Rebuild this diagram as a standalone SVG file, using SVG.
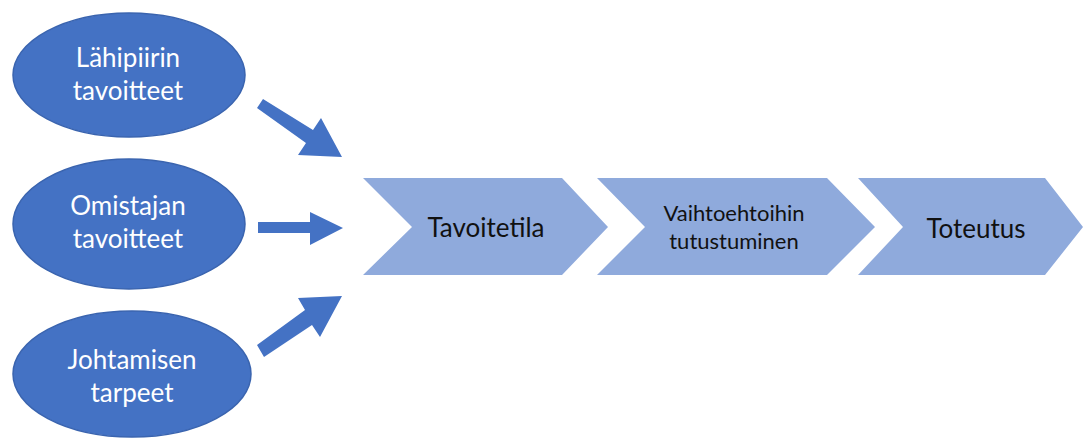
<svg xmlns="http://www.w3.org/2000/svg" width="1083" height="438" viewBox="0 0 1083 438">
<style>
.ell{fill:#4472C4;stroke:#3A64AF;stroke-width:1.5}
.chev{fill:#8FAADC}
.arr{fill:#4472C4}
.wt{fill:#fff;font-family:Lato,"Open Sans",sans-serif;font-size:26px;text-anchor:middle}
.bt{fill:#111;font-family:Lato,"Open Sans",sans-serif;font-size:26px;text-anchor:middle}
.st{fill:#111;font-family:Lato,"Open Sans",sans-serif;font-size:22px;text-anchor:middle}
</style>
<rect width="1083" height="438" fill="#fff"/>
<g id="n1"><ellipse class="ell" cx="129" cy="75" rx="116" ry="62"/><text class="wt" x="128" y="67">Lähipiirin</text><text class="wt" x="128" y="100">tavoitteet</text></g>
<g id="n2"><ellipse class="ell" cx="129" cy="224" rx="116" ry="65"/><text class="wt" x="128" y="215">Omistajan</text><text class="wt" x="128" y="248">tavoitteet</text></g>
<g id="n3"><ellipse class="ell" cx="132" cy="374" rx="119" ry="63"/><text class="wt" x="132" y="369">Johtamisen</text><text class="wt" x="132" y="402">tarpeet</text></g>
<g id="c1"><polygon class="chev" points="363,178 562,178 608,227 562,275 363,275 412,227"/><text class="bt" x="486" y="237">Tavoitetila</text></g>
<g id="c2"><polygon class="chev" points="597,178 827,178 875,227 827,275 597,275 645,227"/><text class="st" x="734" y="221">Vaihtoehtoihin</text><text class="st" x="734" y="249">tutustuminen</text></g>
<g id="c3"><polygon class="chev" points="858,178 1045,178 1083,227 1045,275 858,275 903,227"/><text class="bt" x="976" y="238">Toteutus</text></g>
<g id="connectors">
<polygon class="arr" points="257,108 263,99 313,130 321,118 342,157 298,155 306,143"/>
<polygon class="arr" points="258,222 310,222 310,212 343,228 310,245 310,233 258,233"/>
<polygon class="arr" points="257,345 264,357 312,325 320,337 342,296 298,298 305,310"/>
</g>
</svg>
